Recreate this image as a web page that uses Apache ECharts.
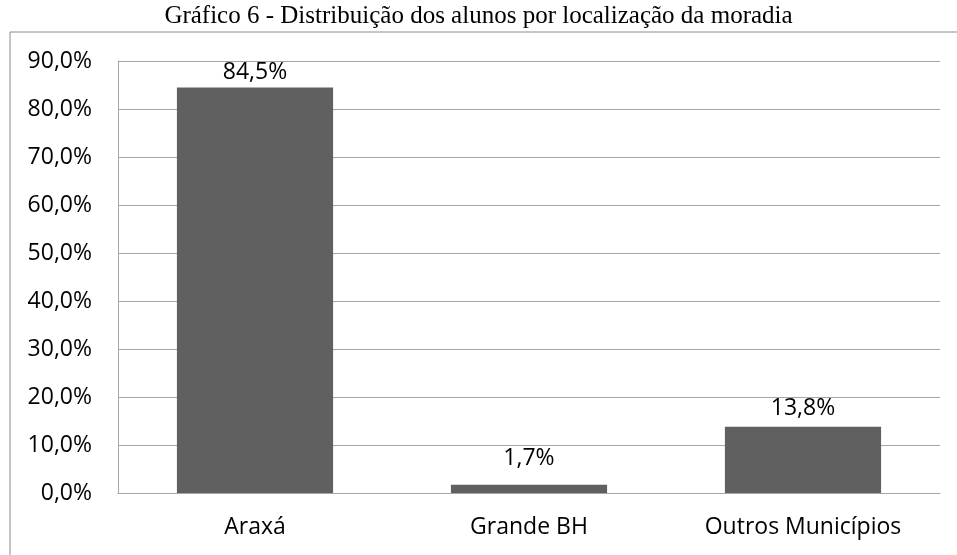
<!DOCTYPE html>
<html>
<head>
<meta charset="utf-8">
<script src="https://cdn.jsdelivr.net/npm/echarts@6/dist/echarts.min.js"></script>
<style>
  html, body { margin: 0; padding: 0; background: #fff; }
  #chart { width: 957px; height: 555px; }
</style>
</head>
<body>
<div id="chart"></div>
<script>
var titulo = "Gráfico 6 - Distribuição dos alunos por localização da moradia";
var categorias = ["Araxá", "Grande BH", "Outros Municípios"];
var valores = [84.5, 1.7, 13.8];
var yMin = 0, yMax = 90, yPasso = 10;

function pct(v) {
  return v.toFixed(1).replace(".", ",") + "%";
}

var myChart = echarts.init(document.getElementById("chart"));

// distância do rótulo ao topo da barra, como no original
var distRotulo = [3, 15, 7];

var option = {
  animation: false,
  title: {
    text: titulo,
    left: "center",
    top: -1,
    textStyle: {
      fontFamily: "Liberation Serif",
      fontSize: 25,
      fontWeight: "normal",
      color: "#000"
    }
  },
  // moldura externa (só as bordas superior e esquerda aparecem)
  graphic: [
    {
      type: "polyline",
      shape: { points: [[10, 560], [10, 32], [960, 32]] },
      style: { stroke: "#8c8c8c", lineWidth: 1, fill: null }
    }
  ],
  grid: {
    left: 118,
    right: 17,
    top: 61,
    bottom: 62,
    containLabel: false
  },
  xAxis: {
    type: "category",
    data: categorias,
    axisTick: { show: false },
    axisLine: { show: true, lineStyle: { color: "#a6a6a6", width: 1 } },
    axisLabel: {
      color: "#000",
      fontFamily: "Open Sans",
      fontSize: 23,
      margin: 23
    }
  },
  yAxis: {
    type: "value",
    min: yMin,
    max: yMax,
    interval: yPasso,
    axisLine: { show: true, lineStyle: { color: "#a6a6a6", width: 1 } },
    axisTick: { show: false },
    splitLine: { lineStyle: { color: "#a6a6a6", width: 1 } },
    axisLabel: {
      color: "#000",
      fontFamily: "Open Sans",
      fontSize: 23,
      margin: 26,
      formatter: function (v) { return pct(v); }
    }
  },
  series: [
    {
      type: "bar",
      data: valores.map(function (v, i) {
        return { value: v, label: { distance: distRotulo[i] } };
      }),
      barWidth: "57%",
      itemStyle: { color: "#606060" },
      label: {
        show: true,
        position: "top",
        color: "#000",
        fontFamily: "Open Sans",
        fontSize: 23,
        formatter: function (p) { return pct(p.value); }
      }
    }
  ]
};

myChart.setOption(option);
</script>
</body>
</html>
